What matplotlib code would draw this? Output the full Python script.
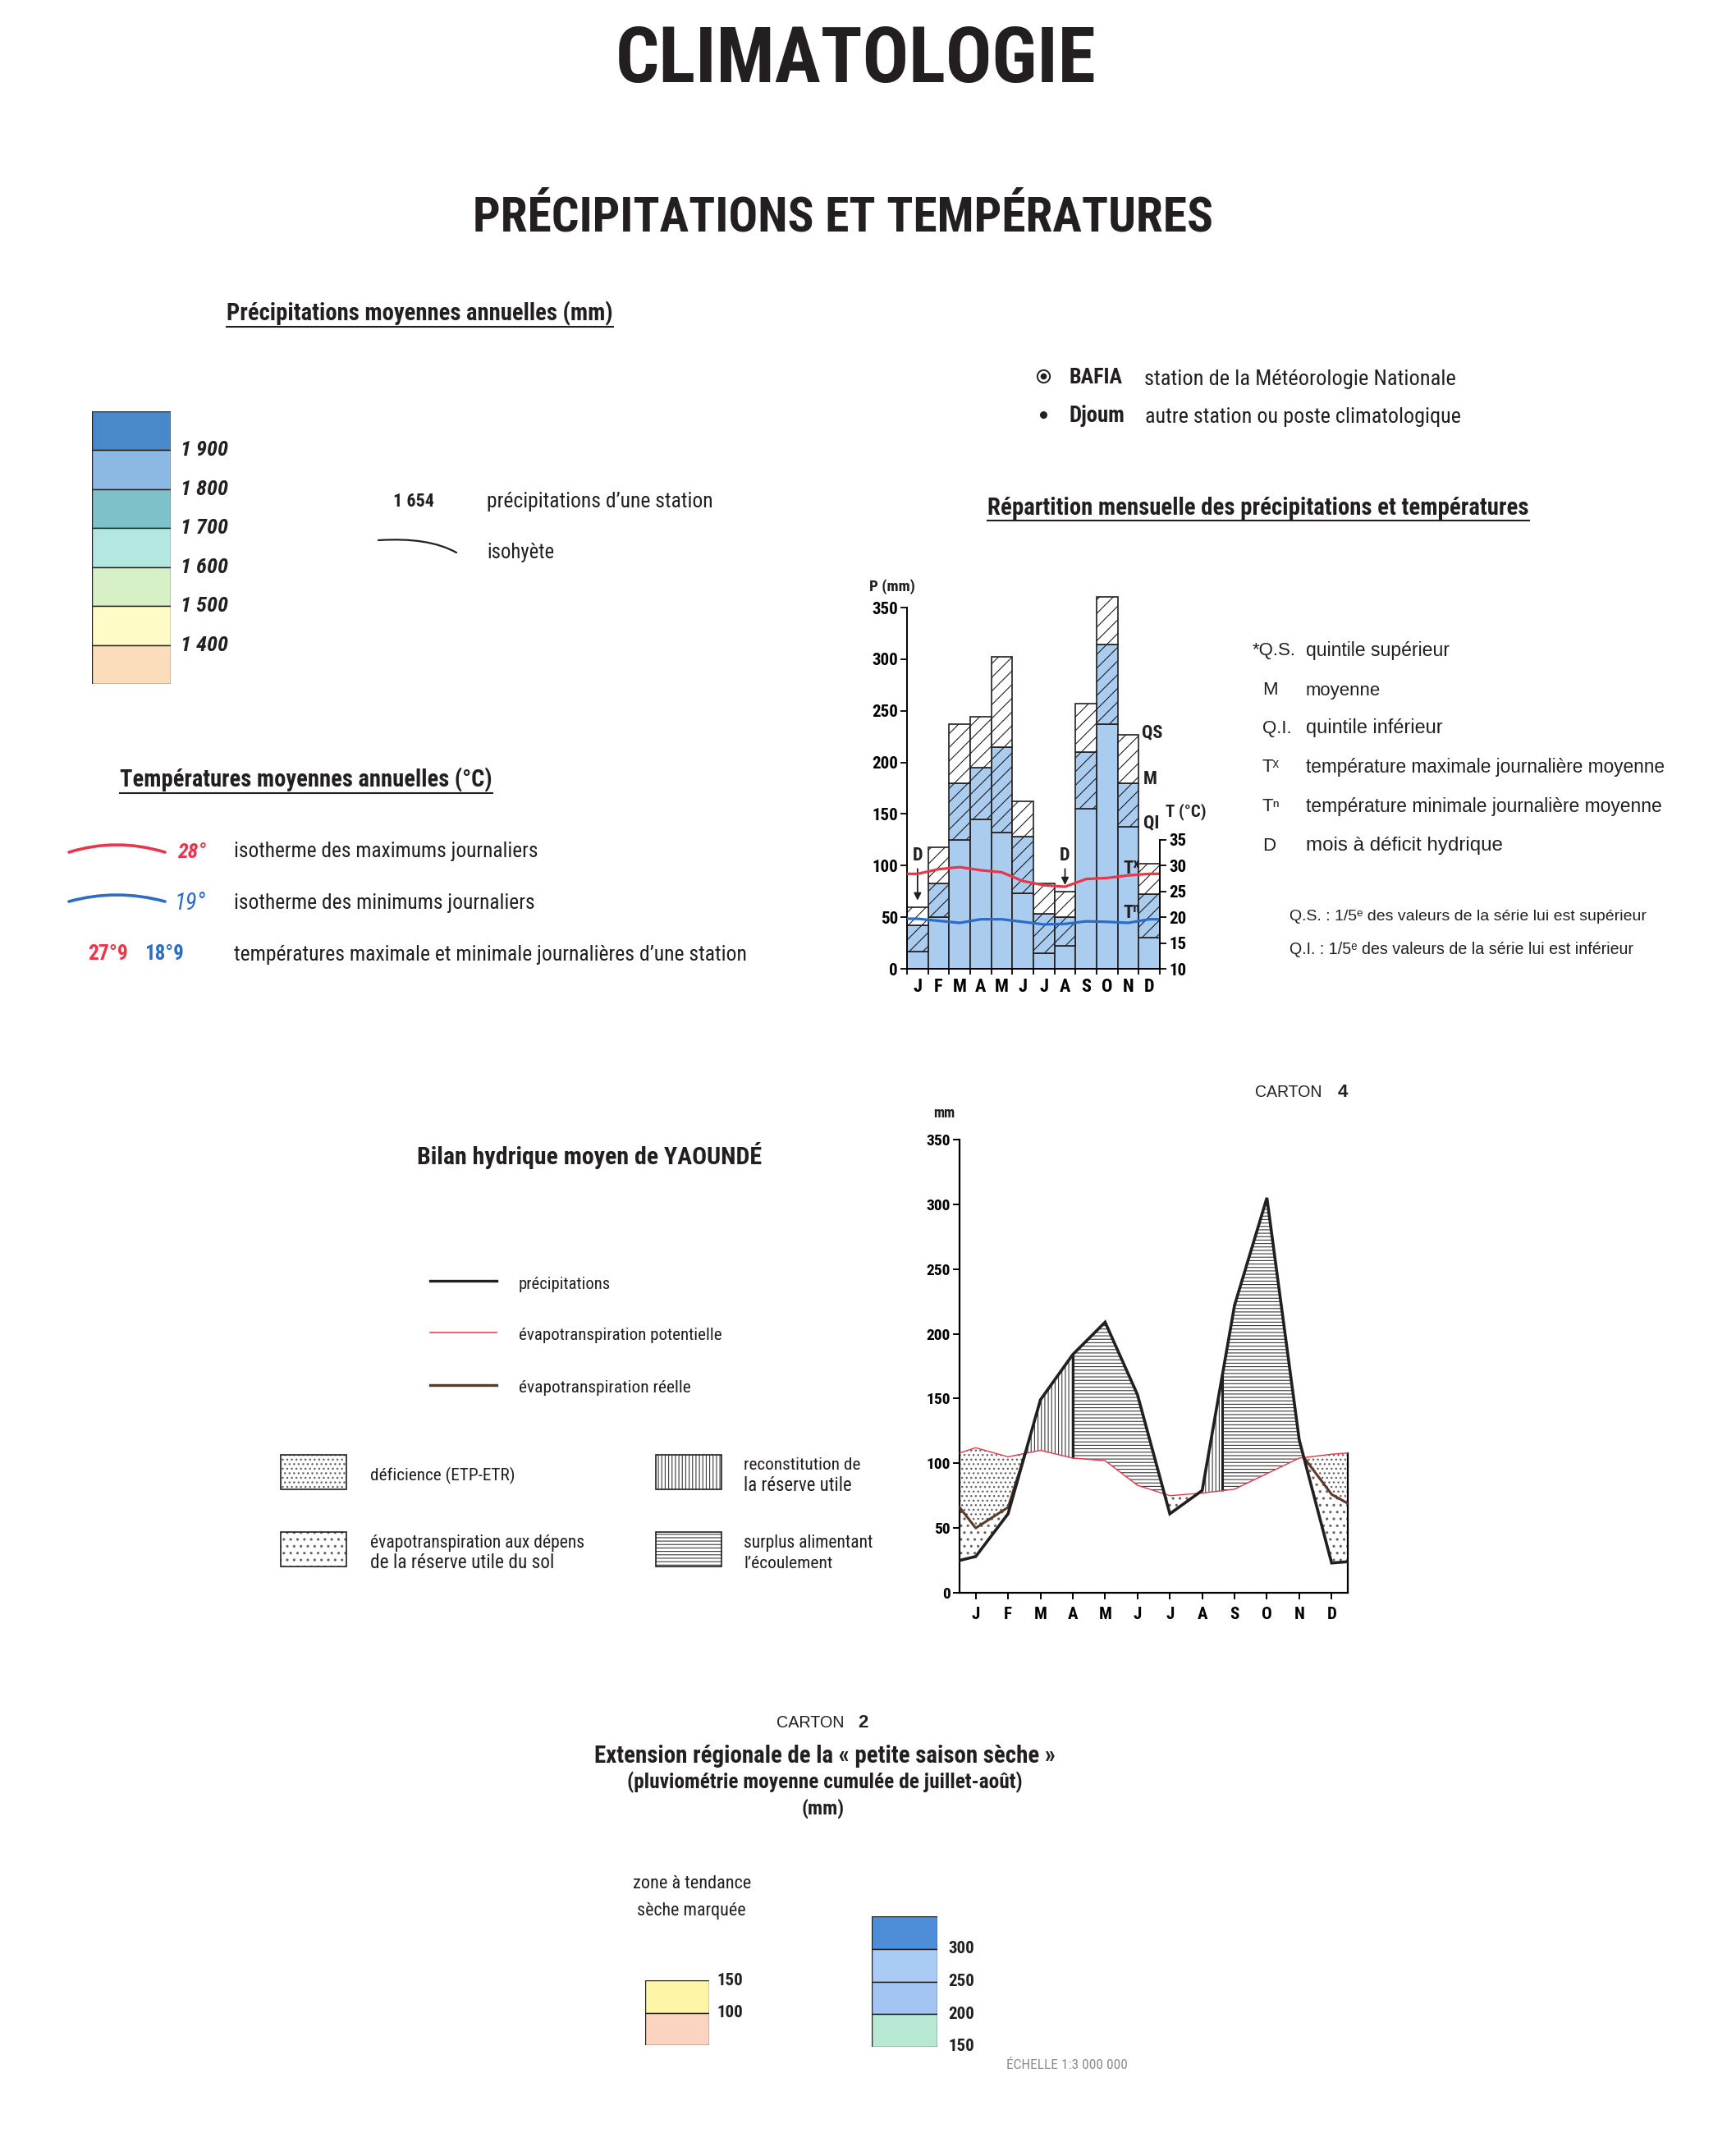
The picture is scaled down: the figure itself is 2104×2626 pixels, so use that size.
import numpy as np
import matplotlib
matplotlib.use('Agg')
import matplotlib.pyplot as plt
from matplotlib import font_manager as fm
from matplotlib.patches import Rectangle, PathPatch
from matplotlib.path import Path
from matplotlib.lines import Line2D

# ------------------------------------------------------------------ data
months = ['J', 'F', 'M', 'A', 'M', 'J', 'J', 'A', 'S', 'O', 'N', 'D']

# Répartition mensuelle des précipitations (mm) : quintiles et moyenne
rain_qs = [60, 118, 237, 244, 302, 162, 83, 75, 257, 360, 227, 102]
rain_mean = [42, 83, 180, 195, 215, 128, 53, 50, 210, 314, 180, 72]
rain_qi = [17, 50, 125, 145, 132, 73, 15, 22, 155, 237, 138, 30]
# températures maximale / minimale journalières moyennes (°C)
temp_max = [28.4, 29.3, 29.7, 29.1, 28.7, 27.0, 26.2, 25.9, 27.4, 27.6, 28.1, 28.4]
temp_min = [19.7, 19.3, 18.9, 19.6, 19.6, 19.1, 18.6, 18.7, 19.2, 19.1, 18.9, 19.6]
deficit_months = [0, 7]
p_ticks = [0, 50, 100, 150, 200, 250, 300, 350]
t_ticks = [10, 15, 20, 25, 30, 35]
t_base, mm_per_deg = 10, 5

# Bilan hydrique moyen de Yaoundé (mm)
wb_precip = [28, 61, 149, 184, 209, 153, 61, 79, 222, 305, 118, 23]
wb_precip_edges = [25, 24]
wb_etp = [112, 105, 110, 104, 102, 83, 75, 77, 80, 92, 104, 107]
wb_etp_edges = [108, 108]
wb_etr = [50, 66, np.nan, np.nan, np.nan, np.nan, np.nan, np.nan, np.nan, np.nan, np.nan, 76]
wb_etr_edges = [66, 69]
recharge_end = [3.0, 7.63]

# légendes en classes
annual_rain_labels = ['1 900', '1 800', '1 700', '1 600', '1 500', '1 400']
annual_rain_colors = ['#4A89C9', '#8BB9E4', '#7DC1C9', '#B3E7E0', '#D8F0C5', '#FFFBC6', '#FCDDBB']
dry_low_labels = ['150', '100']
dry_low_colors = ['#FFF5A6', '#FBD4C1']
dry_high_labels = ['300', '250', '200', '150']
dry_high_colors = ['#4E8DD7', '#AACBF4', '#A2C5F3', '#B6E8D3']

# ------------------------------------------------------------------ style
W, H = 2104, 2626
INK = '#231F20'
RED = '#E8364A'
BLUE = '#2B6CC4'
BAR_BLUE = '#A9CCEF'
BROWN = '#5B3A29'
DOT = '#666666'
HATCH = '#3a3a3a'

SANS = 'Liberation Sans'
NARROW, NSTRETCH = SANS, 'normal'
_fonts = fm.fontManager.ttflist
_pref = ['Liberation Sans Narrow', 'Roboto Condensed', 'Noto Sans', 'Open Sans', 'DejaVu Sans', 'Lato']
_found = None
for pref in _pref:
    for f in _fonts:
        if not f.name.startswith(pref):
            continue
        if 'Mono' in f.name or 'Serif' in f.name or 'CJK' in f.name:
            continue
        if ('Narrow' in f.name or 'Condensed' in f.name
                or f.stretch in ('condensed', 'semi-condensed', 'extra-condensed')):
            _found = f
            break
    if _found:
        break
if _found is not None:
    NARROW = _found.name
    NSTRETCH = _found.stretch

plt.rcParams['font.family'] = [NARROW, 'DejaVu Sans']
plt.rcParams['font.stretch'] = NSTRETCH
plt.rcParams['hatch.linewidth'] = 0.8
plt.rcParams['axes.linewidth'] = 1.4
plt.rcParams['text.color'] = INK

TICK_FS = 15
MONTH_FS = 16
LAB_FS = 16

fig = plt.figure(figsize=(W / 100, H / 100), dpi=100)
fig.patch.set_facecolor('white')
R = fig.canvas.get_renderer()


def fx(x):
    return x / W


def fy(y):
    return 1 - y / H


def add_ax(l, t, r, b):
    return fig.add_axes([l / W, 1 - b / H, (r - l) / W, (b - t) / H])


def txt(s, x0, y, size, x1=None, ha='left', fam=None, weight='normal',
        style='normal', color=INK, underline=False, dy=3):
    if fam is None:
        fam, stretch = NARROW, NSTRETCH
    else:
        stretch = 'normal'
    y = y + dy
    xa = (x0 + x1) / 2 if (x1 is not None and ha == 'center') else x0
    t = fig.text(xa / W, 1 - y / H, s, fontsize=size, ha=ha, va='center',
                 family=[fam, 'DejaVu Sans'], fontstretch=stretch, weight=weight,
                 style=style, color=color)
    if x1 is not None:
        bb = t.get_window_extent(R)
        t.set_fontsize(size * (x1 - x0) / bb.width)
    if underline:
        bb = t.get_window_extent(R)
        yy = bb.y0 - 1
        fig.add_artist(Line2D([bb.x0 / W, bb.x1 / W], [yy / H, yy / H],
                              transform=fig.transFigure, color=color, lw=1.5))
    return t


def curve(p0, c, p1, color, lw):
    verts = [(fx(p0[0]), fy(p0[1])), (fx(c[0]), fy(c[1])), (fx(p1[0]), fy(p1[1]))]
    path = Path(verts, [Path.MOVETO, Path.CURVE3, Path.CURVE3])
    fig.add_artist(PathPatch(path, transform=fig.transFigure, fc='none', ec=color,
                             lw=lw, capstyle='round'))


def class_box(l, t, r, b, colors, labels, first, label_dx, fs, **kw):
    ax = add_ax(l, t, r, b)
    n = len(colors)
    ax.set_xlim(0, 1)
    ax.set_ylim(n, 0)
    for i, c in enumerate(colors):
        ax.bar(0.5, 1, bottom=i, width=1, color=c, edgecolor=INK, lw=1.0)
    ax.axis('off')
    for j, lab in enumerate(labels):
        ax.text(1 + label_dx, first + j, lab, ha='left', va='center', fontsize=fs,
                clip_on=False, **kw)
    return ax


def set_hlw(artist, lw):
    if hasattr(artist, 'set_hatch_linewidth'):
        artist.set_hatch_linewidth(lw)


# ------------------------------------------------------------------ titles
txt('CLIMATOLOGIE', 750, 67, 64, x1=1335, ha='center', weight='bold', dy=7)
txt('PRÉCIPITATIONS ET TEMPÉRATURES', 575, 260, 42, x1=1479, ha='center', weight='bold', dy=5)

# ------------------------------------------------------------------ précipitations annuelles
txt('Précipitations moyennes annuelles (mm)', 276, 377, 17, x1=745, weight='bold',
    underline=True, dy=5)
class_box(112, 501, 208, 833, annual_rain_colors, annual_rain_labels, 1, 0.12, 19,
          weight='bold', style='italic')
txt('1 654', 479, 608, 15, x1=529, weight='bold')
txt('précipitations d’une station', 593, 608, 16, x1=869)
curve((461, 658), (522, 654), (556, 673), INK, 1.6)
txt('isohyète', 593, 670, 16, x1=675)

# ------------------------------------------------------------------ températures annuelles
txt('Températures moyennes annuelles (°C)', 146, 945, 17, x1=598, weight='bold',
    underline=True, dy=5)
curve((84, 1038), (142, 1020), (201, 1038), RED, 2.6)
txt('28°', 216, 1035, 17, x1=251, weight='bold', style='italic', color=RED)
txt('isotherme des maximums journaliers', 285, 1034, 16, x1=657)
curve((84, 1098), (142, 1082), (201, 1098), BLUE, 2.6)
txt('19°', 213, 1097, 17, x1=251, style='italic', color=BLUE)
txt('isotherme des minimums journaliers', 285, 1097, 16, x1=653)
txt('27°9', 107, 1159, 17, x1=156, weight='bold', color=RED)
txt('18°9', 176, 1159, 17, x1=224, weight='bold', color=BLUE)
txt('températures maximale et minimale journalières d’une station', 285, 1160, 16, x1=916)

# ------------------------------------------------------------------ stations
fig.add_artist(Line2D([fx(1271)], [fy(458)], marker='o', ms=11, mfc='white', mec=INK, mew=1.4,
                      transform=fig.transFigure))
fig.add_artist(Line2D([fx(1271)], [fy(458)], marker='o', ms=4.5, mfc=INK, mec=INK,
                      transform=fig.transFigure))
fig.add_artist(Line2D([fx(1271)], [fy(505)], marker='o', ms=5.5, mfc=INK, mec=INK,
                      transform=fig.transFigure))
txt('BAFIA', 1302, 457, 17, x1=1367, weight='bold')
txt('station de la Météorologie Nationale', 1394, 459, 15, x1=1774)
txt('Djoum', 1302, 504, 17, x1=1370, weight='bold')
txt('autre station ou poste climatologique', 1395, 505, 15, x1=1781)
txt('Répartition mensuelle des précipitations et températures', 1203, 614, 17, x1=1859,
    weight='bold', underline=True, dy=5)

# ------------------------------------------------------------------ monthly chart
ppm = 440 / 350
base = 1180
top_val = 370
ax1 = add_ax(1105, base - top_val * ppm, 1413, base)
ax1.patch.set_alpha(0)
x = np.arange(12)
ax1.bar(x, rain_qi, width=1, color=BAR_BLUE, edgecolor=INK, lw=1.2)
ax1.bar(x, np.subtract(rain_mean, rain_qi), bottom=rain_qi, width=1, color=BAR_BLUE,
        edgecolor=INK, lw=1.2, hatch='//')
ax1.bar(x, np.subtract(rain_qs, rain_mean), bottom=rain_mean, width=1, color='white',
        edgecolor=INK, lw=1.2, hatch='//')
ax1.set_xlim(-0.5, 11.5)
ax1.set_ylim(0, top_val)
for s in ['top', 'right']:
    ax1.spines[s].set_visible(False)
ax1.spines['left'].set_bounds(0, 350)
ax1.set_yticks(p_ticks, labels=[str(v) for v in p_ticks], fontsize=TICK_FS, fontweight='bold')
ax1.set_xticks(np.arange(-0.5, 12, 1), labels=[])
ax1.set_xticks(x, labels=months, minor=True, fontsize=MONTH_FS, fontweight='bold')
ax1.tick_params(axis='x', which='minor', length=0, pad=8)
ax1.tick_params(axis='x', which='major', length=5, width=1.3, direction='out')
ax1.tick_params(axis='y', length=6, width=1.3, pad=2)

ax2 = ax1.twinx()
ax2.set_ylim(t_base, t_base + top_val / mm_per_deg)
for s in ['top', 'left', 'bottom']:
    ax2.spines[s].set_visible(False)
ax2.spines['right'].set_bounds(t_ticks[0], t_ticks[-1])
ax2.set_yticks(t_ticks, labels=[str(v) for v in t_ticks], fontsize=TICK_FS, fontweight='bold')
ax2.tick_params(axis='y', length=6, width=1.3, pad=2)
xt = np.r_[-0.5, x, 11.5]
ax2.plot(xt, np.r_[temp_max[0], temp_max, temp_max[-1]], color=RED, lw=2.3,
         solid_joinstyle='round', solid_capstyle='butt')
ax2.plot(xt, np.r_[temp_min[0], temp_min, temp_min[-1]], color=BLUE, lw=2.3,
         solid_joinstyle='round', solid_capstyle='butt')

for m in deficit_months:
    ax1.annotate('', xy=(m, rain_qs[m] + 4), xytext=(m, 99),
                 arrowprops=dict(arrowstyle='-|>', color=INK, lw=1.3, mutation_scale=13))
    ax1.text(m, 110, 'D', ha='center', va='center', fontsize=LAB_FS, fontweight='bold')
ax1.text(10.66, 229, 'QS', ha='left', va='center', fontsize=LAB_FS, fontweight='bold')
ax1.text(10.72, 184, 'M', ha='left', va='center', fontsize=LAB_FS, fontweight='bold')
ax1.text(10.72, 141, 'QI', ha='left', va='center', fontsize=LAB_FS, fontweight='bold')
ax1.text(9.76, 97, 'Tˣ', ha='left', va='center', fontsize=LAB_FS, fontweight='bold')
ax1.text(9.76, 54, 'Tⁿ', ha='left', va='center', fontsize=LAB_FS, fontweight='bold')
ax1.text(11.76, 152, 'T (°C)', ha='left', va='center', fontsize=15, fontweight='bold')
txt('P (mm)', 1059, 712, 13, x1=1114, weight='bold')

# ------------------------------------------------------------------ right legend
rows = [789, 838, 884, 931, 980, 1027]
keys = ['*Q.S.', 'M', 'Q.I.', 'Tˣ', 'Tⁿ', 'D']
key_x = [1526, 1538, 1538, 1538, 1538, 1538]
descr = ['quintile supérieur', 'moyenne', 'quintile inférieur',
         'température maximale journalière moyenne',
         'température minimale journalière moyenne', 'mois à déficit hydrique']
descr_x1 = [1766, 1682, 1757, 2029, 2025, 1831]
for yk, k, kx, d, dx1 in zip(rows, keys, key_x, descr, descr_x1):
    txt(k, kx, yk, 16, fam=SANS)
    txt(d, 1591, yk, 16, x1=dx1, fam=SANS)
txt('Q.S. : 1/5ᵉ des valeurs de la série lui est supérieur', 1571, 1114, 13, x1=2003, fam=SANS)
txt('Q.I. : 1/5ᵉ des valeurs de la série lui est inférieur', 1571, 1154, 13, x1=1988, fam=SANS)

# ------------------------------------------------------------------ bilan hydrique
txt('CARTON', 1529, 1327, 15, x1=1611, fam=SANS)
txt('4', 1630, 1327, 16, weight='bold', fam=SANS)
txt('mm', 1137, 1353, 12, x1=1163, weight='bold')
txt('Bilan hydrique moyen de YAOUNDÉ', 508, 1405, 16, x1=928, weight='bold')

ax3 = add_ax(1169, 1388, 1642, 1940)
ax3.patch.set_alpha(0)
ax3.set_xlim(-0.5, 11.5)
ax3.set_ylim(0, 350)
xe = np.r_[-0.5, x, 11.5]
P = np.r_[wb_precip_edges[0], wb_precip, wb_precip_edges[1]]
E = np.r_[wb_etp_edges[0], wb_etp, wb_etp_edges[1]]
xs = np.linspace(-0.5, 11.5, 2401)
Ps = np.interp(xs, xe, P)
Es = np.interp(xs, xe, E)
wet = Ps >= Es
i1 = int(np.argmax(wet))
i2 = len(xs) - 1 - int(np.argmax(wet[::-1]))
x_c1, x_c2 = xs[i1], xs[i2]
etr_lx = [-0.5, 0, 1, x_c1]
etr_ly = [wb_etr_edges[0], wb_etr[0], wb_etr[1], Ps[i1]]
etr_rx = [x_c2, 11, 11.5]
etr_ry = [Ps[i2], wb_etr[11], wb_etr_edges[1]]
etr_s = Es.copy()
mk = xs <= x_c1
etr_s[mk] = np.interp(xs[mk], etr_lx, etr_ly)
mk = xs >= x_c2
etr_s[mk] = np.interp(xs[mk], etr_rx, etr_ry)

starts = xs[1:][(~wet[:-1]) & wet[1:]]
recharge = np.zeros_like(wet)
for s0, e0 in zip(starts, recharge_end):
    recharge |= (xs >= s0) & (xs <= e0)
recharge &= wet
surplus = wet & ~recharge

plt.rcParams['hatch.color'] = DOT
c = ax3.fill_between(xs, etr_s, Es, where=etr_s < Es - 0.05, interpolate=True,
                     facecolor='none', edgecolor=DOT, lw=0, hatch='...')
set_hlw(c, 1.0)
c = ax3.fill_between(xs, Ps, etr_s, where=Ps < etr_s - 0.05, interpolate=True,
                     facecolor='none', edgecolor=DOT, lw=0, hatch='..')
set_hlw(c, 1.1)
plt.rcParams['hatch.color'] = HATCH
ax3.fill_between(xs, Es, Ps, where=recharge, interpolate=True,
                 facecolor='none', edgecolor=HATCH, lw=0, hatch='||||')
ax3.fill_between(xs, Es, Ps, where=surplus, interpolate=True,
                 facecolor='none', edgecolor=HATCH, lw=0, hatch='----')
ax3.vlines(recharge_end, np.interp(recharge_end, xe, E), np.interp(recharge_end, xe, P),
           color=INK, lw=2.2, zorder=4)
ax3.plot(etr_lx, etr_ly, color=BROWN, lw=2.2, zorder=4)
ax3.plot(etr_rx, etr_ry, color=BROWN, lw=2.2, zorder=4)
ax3.plot(xe, E, color=RED, lw=1.0, zorder=5)
ax3.plot(xe, P, color=INK, lw=2.6, zorder=6, solid_joinstyle='miter')
ax3.spines['top'].set_visible(False)
ax3.spines['right'].set_bounds(0, E[-1])
for s in ['left', 'bottom', 'right']:
    ax3.spines[s].set_linewidth(1.6)
ax3.set_yticks(p_ticks, labels=[str(v) for v in p_ticks], fontsize=TICK_FS - 1, fontweight='bold')
ax3.set_xticks(x, labels=months, fontsize=MONTH_FS - 1, fontweight='bold')
ax3.tick_params(axis='y', length=6, width=1.4, pad=2)
ax3.tick_params(axis='x', length=6, width=1.4, pad=6)

# bilan legend
for yl, col, lw in [(1560, INK, 2.4), (1623, RED, 1.1), (1687, BROWN, 2.4)]:
    fig.add_artist(Line2D([fx(524), fx(605)], [fy(yl), fy(yl)], color=col, lw=lw,
                          transform=fig.transFigure))
txt('précipitations', 632, 1561, 14, x1=744)
txt('évapotranspiration potentielle', 632, 1624, 14, x1=881)
txt('évapotranspiration réelle', 632, 1688, 14, x1=843)


def hatch_box(l, t, r, b, hatch, hcol, hlw=None):
    plt.rcParams['hatch.color'] = hcol
    p = Rectangle((fx(l), fy(b)), (r - l) / W, (b - t) / H, transform=fig.transFigure,
                  facecolor='white', edgecolor=hcol, lw=0, hatch=hatch)
    if hlw:
        set_hlw(p, hlw)
    fig.add_artist(p)
    fig.add_artist(Rectangle((fx(l), fy(b)), (r - l) / W, (b - t) / H, transform=fig.transFigure,
                             fill=False, edgecolor=INK, lw=1.2))


hatch_box(342, 1772, 422, 1814, '...', DOT, 1.0)
hatch_box(342, 1866, 422, 1908, '..', DOT, 1.1)
hatch_box(799, 1772, 879, 1814, '||||', HATCH)
hatch_box(799, 1866, 879, 1908, '----', HATCH)
txt('déficience (ETP-ETR)', 451, 1794, 14, x1=628)
txt('évapotranspiration aux dépens', 451, 1876, 14, x1=714)
txt('de la réserve utile du sol', 451, 1901, 14, x1=677)
txt('reconstitution de', 906, 1782, 14, x1=1049)
txt('la réserve utile', 906, 1806, 14, x1=1039)
txt('surplus alimentant', 906, 1876, 14, x1=1065)
txt('l’écoulement', 906, 1901, 14, x1=1015)

# ------------------------------------------------------------------ carton 2
txt('CARTON', 946, 2096, 15, x1=1029, fam=SANS)
txt('2', 1045, 2096, 16, weight='bold', fam=SANS)
txt('Extension régionale de la « petite saison sèche »', 724, 2136, 16, x1=1285, weight='bold')
txt('(pluviométrie moyenne cumulée de juillet-août)', 764, 2168, 14, x1=1248, weight='bold')
txt('(mm)', 977, 2200, 14, x1=1029, weight='bold')
txt('zone à tendance', 771, 2292, 13, x1=915)
txt('sèche marquée', 776, 2324, 13, x1=908)
class_box(786, 2412, 864, 2491, dry_low_colors, dry_low_labels, 0, 0.12, 15, weight='bold')
class_box(1062, 2334, 1142, 2493, dry_high_colors, dry_high_labels, 1, 0.17, 15, weight='bold')
txt('ÉCHELLE 1:3 000 000', 1226, 2513, 12, x1=1372, color='#8c8c8c')

fig.savefig('out.png', dpi=100, facecolor='white')
